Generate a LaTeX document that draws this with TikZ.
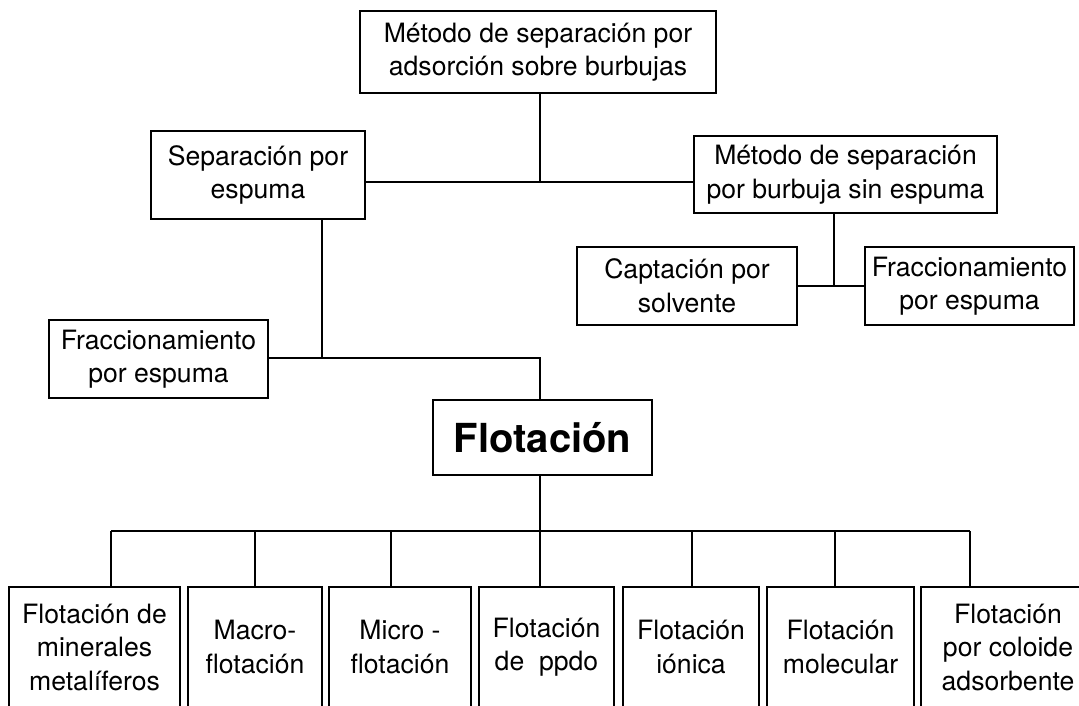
\documentclass[tikz,border=0pt]{standalone}
\usepackage{fontspec}
\setmainfont{TeX Gyre Heros}
\usepackage{tikz}

\tikzset{
  box/.style={draw, line width=2.8pt, rectangle, inner sep=0pt, align=center,
    font=\fontsize{26.6}{33.5}\selectfont},
  link/.style={line width=2.8pt}
}

\begin{document}
\begin{tikzpicture}[x=1pt, y=-1pt]
		\useasboundingbox (0,0) rectangle (1079,705);
		\clip (0,0) rectangle (1079,705);
		\node[box, minimum width=356, minimum height=82] (adsor) at (538,52) {Método de separación por\\adsorción sobre burbujas};
		\node[box, minimum width=214, minimum height=88] (sepesp) at (258,175) {Separación por\\espuma};
		\node[box, minimum width=303, minimum height=77] (sinesp) at (845.5,174.5) {Método de separación\\por burbuja sin espuma};
		\node[box, minimum width=220, minimum height=78] (capt) at (687,286) {Captación por\\solvente};
		\node[box, minimum width=209, minimum height=78] (fracB) at (969.5,286) {Fraccionamiento\\por espuma};
		\node[box, minimum width=219, minimum height=78] (fracA) at (158.5,359) {Fraccionamiento\\por espuma};
		\node[box, minimum width=219, minimum height=75, font=\fontsize{40}{44}\selectfont\bfseries] (flot) at (542.5,437.5) {Flotación};
		\node[box, minimum width=171, minimum height=120] (b1) at (94.5,647) {Flotación de\\minerales\\metalíferos};
		\node[box, minimum width=134, minimum height=120] (b2) at (255,647) {Macro-\\flotación};
		\node[box, minimum width=142, minimum height=120] (b3) at (400,647) {Micro -\\flotación};
		\node[box, minimum width=135, minimum height=120] (b4) at (546.5,647) {Flotación\\de~~ppdo};
		\node[box, minimum width=136, minimum height=120] (b5) at (691,647) {Flotación\\iónica};
		\node[box, minimum width=147, minimum height=120] (b6) at (840.5,647) {Flotación\\molecular};
		\node[box, minimum width=174, minimum height=120] (b7) at (1008,647) {Flotación\\por coloide\\adsorbente};
		% junctions
		\coordinate (j1) at (540,182);
		\coordinate (j2) at (322,358);
		\coordinate (j3) at (834,287);
		\coordinate (s1) at (111,531);
		\coordinate (s2) at (255,531);
		\coordinate (s3) at (391,531);
		\coordinate (s4) at (540,531);
		\coordinate (s5) at (692,531);
		\coordinate (s6) at (835,531);
		\coordinate (s7) at (970,531);
		\draw[link] (adsor.south -| j1) -- (j1);
		\draw[link] (sepesp.east |- j1) -- (sinesp.west |- j1);
		\draw[link] (sepesp.south -| j2) -- (j2);
		\draw[link] (fracA.east |- j2) -- (j2) -| (flot.north -| j1);
		\draw[link] (sinesp.south -| j3) -- (j3);
		\draw[link] (capt.east) -- (fracB.west);
		\draw[link] (flot.south -| s4) -- (s4);
		\draw[link] (s1) -- (s7);
		\draw[link] (s1) -- (s1 |- b1.north);
		\draw[link] (s2) -- (s2 |- b2.north);
		\draw[link] (s3) -- (s3 |- b3.north);
		\draw[link] (s4) -- (s4 |- b4.north);
		\draw[link] (s5) -- (s5 |- b5.north);
		\draw[link] (s6) -- (s6 |- b6.north);
		\draw[link] (s7) -- (s7 |- b7.north);
\end{tikzpicture}
\end{document}
